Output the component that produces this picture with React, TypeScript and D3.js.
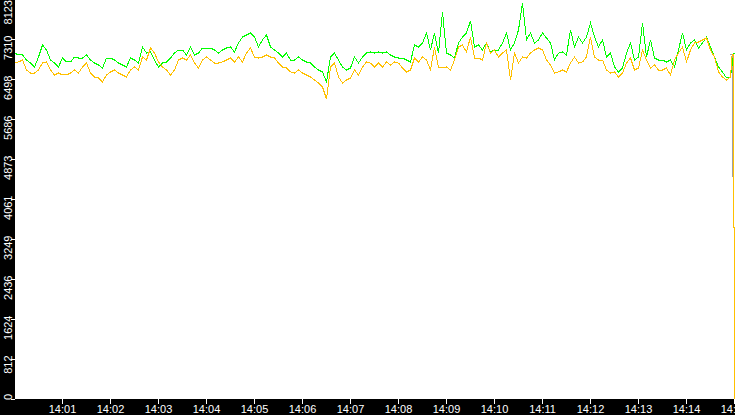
import React from 'react';
import * as d3 from 'd3';

// samples every 5 seconds from 14:00:00
const START = new Date(2024, 0, 1, 14, 0, 0);
const END = new Date(2024, 0, 1, 14, 15, 0);
const STEP_SECONDS = 5;

const greenValues = [
  7036, 6996, 6996, 6894, 6833, 6752, 6955, 7199, 7097, 6894, 6833, 6752, 6935, 6854, 6854, 6955,
  6935, 6935, 6996, 6894, 6833, 6793, 6732, 6935, 6935, 6894, 6833, 6793, 6752, 6935, 6894,
  6833, 7158, 7036, 7057, 6894, 6752, 6833, 6854, 6935, 7036, 7097, 7097, 6996, 7158, 6996,
  7036, 7138, 7138, 7138, 7097, 7036, 7097, 7138, 7158, 7057, 7240, 7362, 7402, 7443, 7362,
  7158, 7301, 7402, 7158, 7097, 7036, 6955, 7036, 6894, 6894, 6955, 6894, 6854, 6833, 6752,
  6691, 6651, 6448, 6955, 7036, 6894, 6752, 6691, 6732, 6955, 6833, 6955, 7036, 7057, 7036,
  7057, 7036, 7057, 6996, 6955, 6935, 6935, 6894, 6854, 7199, 7158, 7240, 7443, 7097, 7443,
  7036, 7869, 7036, 6996, 6935, 7240, 7362, 7443, 7686, 7158, 7199, 7097, 7240, 7057, 7097,
  7097, 7240, 7443, 7097, 7240, 7504, 8052, 7301, 7443, 7240, 7301, 7443, 7341, 7240, 6894,
  7036, 7057, 6996, 7504, 7158, 7362, 7240, 7362, 7646, 7362, 7158, 7301, 6955, 7036, 6752,
  6651, 6732, 7036, 7240, 6894, 6955, 7646, 6955, 7301, 6935, 6894, 6894, 6854, 6894, 6752,
  7097, 7443, 7097, 7240, 7301, 7138, 7240, 7362, 7158, 6955, 6752, 6651, 6529, 6549,
];

const orangeValues = [
  6833, 6854, 6894, 6691, 6630, 6630, 6691, 6833, 6854, 6691, 6590, 6630, 6590, 6590, 6630, 6691,
  6630, 6752, 6833, 6630, 6549, 6529, 6448, 6590, 6651, 6691, 6630, 6590, 6549, 6691, 6752,
  6691, 6955, 6894, 7138, 7036, 6854, 6752, 6691, 6590, 6691, 6894, 6935, 6894, 6996, 6833,
  6732, 6894, 6955, 6894, 6833, 6833, 6854, 6894, 6935, 6854, 6955, 6854, 7036, 7138, 6955,
  6935, 6955, 6996, 6955, 6935, 6833, 6752, 6732, 6651, 6630, 6691, 6630, 6590, 6549, 6488,
  6427, 6346, 6102, 6752, 6833, 6549, 6427, 6488, 6529, 6691, 6590, 6752, 6854, 6833, 6752,
  6833, 6752, 6854, 6793, 6854, 6833, 6732, 6651, 6691, 6935, 6854, 6955, 6894, 6691, 7158,
  6752, 6732, 6752, 6691, 6894, 7158, 7199, 7057, 7362, 6935, 6935, 6894, 7240, 7036, 7097,
  6955, 7036, 7097, 6488, 7036, 6833, 6955, 6935, 7036, 7097, 7138, 7097, 6894, 6793, 6630,
  6651, 6691, 6651, 6833, 6955, 6833, 6854, 6955, 7362, 6955, 6894, 6894, 6691, 6630, 6651,
  6549, 6630, 6833, 6935, 6691, 6732, 7097, 6894, 6732, 6793, 6691, 6691, 6732, 6590, 6894,
  7036, 7158, 6854, 7097, 7240, 7260, 7301, 7341, 7097, 6955, 6651, 6549, 6488, 6549,
];

// last few seconds, where the feed drops out
const greenTail = [
  { sec: 899, value: 7036 },
  { sec: 900, value: 7036 },
];
const orangeTail = [
  { sec: 897, value: 6996 },
  { sec: 898.5, value: 6996 },
  { sec: 899, value: 3503 },
  { sec: 899.8, value: 3503 },
  { sec: 900, value: 0 },
];
const grayTail = [
  { sec: 894, value: 6996 },
  { sec: 898, value: 6996 },
  { sec: 898.2, value: 3503 },
];

const yMax = 8123;
const yTickValues = [0, 812.3, 1624.6, 2436.9, 3249.2, 4061.5, 4873.8, 5686.1, 6498.4, 7310.7, 8123];
const yTickLabels = ['0', '812', '1624', '2436', '3249', '4061', '4873', '5686', '6498', '7310', '8123'];

type Pt = { t: Date; v: number };

const secToDate = (s: number) => new Date(START.getTime() + s * 1000);

const toPoints = (values: number[], tail: { sec: number; value: number }[]): Pt[] =>
  values
    .map((v, i) => ({ t: secToDate(i * STEP_SECONDS), v }))
    .concat(tail.map((d) => ({ t: secToDate(d.sec), v: d.value })));

const W = 735;
const H = 415;
const LEFT = 15;
const BOTTOM = 399;
const FONT = '"Liberation Sans", Arial, sans-serif';

const App: React.FC = () => {
  const x = d3.scaleTime().domain([START, END]).range([14.5, 734.5]);
  const y = d3.scaleLinear().domain([0, yMax]).range([399.5, -0.5]);

  const line = d3
    .line<Pt>()
    .x((d) => x(d.t))
    .y((d) => y(d.v));

  const green = toPoints(greenValues, greenTail);
  const orange = toPoints(orangeValues, orangeTail);
  const gray = grayTail.map((d) => ({ t: secToDate(d.sec), v: d.value }));

  const xTicks = d3.timeMinute.every(1)!.range(d3.timeMinute.offset(START, 1), d3.timeSecond.offset(END, 1));
  const fmt = d3.timeFormat('%H:%M');

  return (
    <svg
      width={W}
      height={H}
      style={{ position: 'absolute', left: 0, top: 0, background: '#fff' }}
    >
      <defs>
        <clipPath id="plot">
          <rect x={LEFT} y={0} width={W - LEFT} height={BOTTOM} />
        </clipPath>
      </defs>
      <rect x={LEFT} y={0} width={W - LEFT} height={BOTTOM} fill="#fff" />

      <g clipPath="url(#plot)" fill="none" strokeWidth={1} shapeRendering="crispEdges">
        <path d={line(gray) ?? ''} stroke="#a0a0a0" />
        <path d={line(green) ?? ''} stroke="#00ff00" />
        <path d={line(orange) ?? ''} stroke="#ffc000" />
      </g>

      <rect x={0} y={0} width={LEFT} height={H} fill="#000" />
      <rect x={0} y={BOTTOM} width={W} height={H - BOTTOM} fill="#000" />

      {yTickValues.map((v, i) => {
        const ty = y(v);
        const isZero = i === 0;
        const ly = isZero ? 400 : Math.max(ty - 4, 0);
        return (
          <g key={v}>
            <line x1={11} x2={LEFT} y1={ty} y2={ty} stroke="#fff" shapeRendering="crispEdges" />
            <text
              transform={`translate(11.5,${ly}) rotate(-90)`}
              textAnchor={isZero ? 'start' : 'end'}
              fill="#fff"
              fontFamily={FONT}
              fontSize={11}
            >
              {yTickLabels[i]}
            </text>
          </g>
        );
      })}

      {xTicks.map((t) => (
        <g key={+t}>
          <line x1={x(t)} x2={x(t)} y1={BOTTOM} y2={BOTTOM + 5} stroke="#fff" shapeRendering="crispEdges" />
          <text x={x(t)} y={413} textAnchor="middle" fill="#fff" fontFamily={FONT} fontSize={11}>
            {fmt(t)}
          </text>
        </g>
      ))}
    </svg>
  );
};

export default App;
